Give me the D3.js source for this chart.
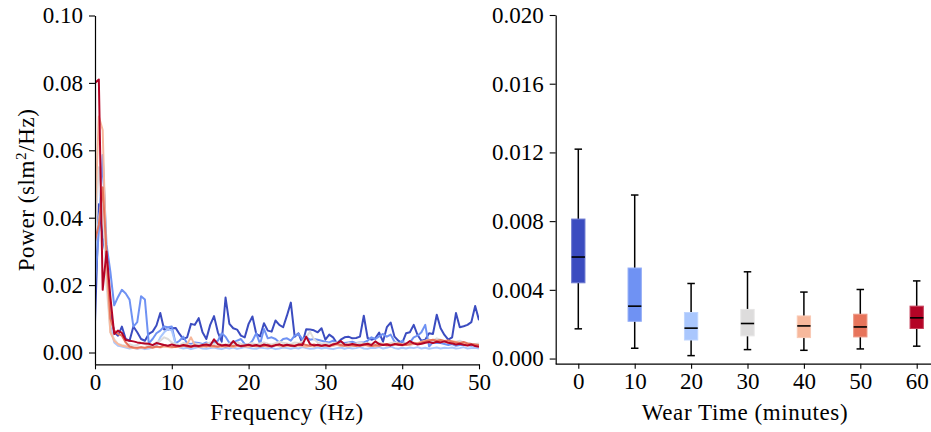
<!DOCTYPE html>
<html>
<head>
<meta charset="utf-8">
<script src="https://cdn.jsdelivr.net/npm/d3@7"></script>
<style>
  html, body { margin: 0; padding: 0; background: #fff; }
  svg { display: block; }
  svg text { font-family: "Liberation Serif", "DejaVu Serif", serif !important; fill: #000; }
</style>
</head>
<body>
<svg id="chart" width="931" height="432"></svg>
<script>
// Wear-time groups (minutes) and their colours
const wearTimes = [0, 10, 20, 30, 40, 50, 60];
const groupColors = ["#3b4cc0", "#6f92f3", "#aac7fd", "#dddcdc", "#f7b89c", "#e7745b", "#b40426"];

// Frequency bins of the spectra (Hz), 0.5 Hz spacing
const freqs = d3.range(0, 50.001, 0.5);

// Mean power spectra per wear time (slm^2/Hz)
const psd0 = [
  0.009, 0.044, 0.034, 0.028, 0.012, 0.006, 0.005, 0.0077, 0.004, 0.0035,
  0.0077, 0.006, 0.004, 0.0035, 0.0055, 0.0062, 0.008, 0.0117, 0.0068, 0.0068,
  0.0072, 0.0073, 0.0055, 0.004, 0.0045, 0.0085, 0.0082, 0.0102, 0.006, 0.004,
  0.0082, 0.0108, 0.006, 0.0032, 0.0163, 0.0085, 0.0072, 0.0068, 0.005, 0.0045,
  0.0085, 0.0107, 0.0055, 0.0048, 0.0087, 0.0065, 0.0062, 0.0095, 0.0082, 0.0075,
  0.011, 0.0148, 0.0047, 0.0057, 0.0027, 0.0069, 0.0068, 0.0066, 0.006, 0.0072,
  0.0038, 0.0053, 0.0045, 0.0027, 0.0038, 0.0045, 0.0047, 0.0042, 0.0043, 0.0047,
  0.0109, 0.0043, 0.0038, 0.0042, 0.0059, 0.0032, 0.0075, 0.0089, 0.0047, 0.0035,
  0.0028, 0.0057, 0.006, 0.0082, 0.0052, 0.0035, 0.0038, 0.0057, 0.0055, 0.0112,
  0.0072, 0.0052, 0.0038, 0.0045, 0.0117, 0.0075, 0.0078, 0.0082, 0.009, 0.0138,
  0.0096
];
const psd10 = [
  0.02, 0.036, 0.0586, 0.032, 0.024, 0.014, 0.0165, 0.0186, 0.0175, 0.0157,
  0.0077, 0.009, 0.0167, 0.0157, 0.0027, 0.004, 0.0057, 0.0065, 0.0077, 0.0075,
  0.0077, 0.0027, 0.0035, 0.0047, 0.0027, 0.0025, 0.003, 0.0028, 0.0025, 0.003,
  0.0025, 0.003, 0.0035, 0.0057, 0.0047, 0.0028, 0.003, 0.0035, 0.004, 0.0025,
  0.0022, 0.0035, 0.0057, 0.0025, 0.007, 0.0042, 0.0045, 0.004, 0.003, 0.004,
  0.0042, 0.0035, 0.005, 0.0055, 0.004, 0.0045, 0.0038, 0.004, 0.0038, 0.0035,
  0.0032, 0.003, 0.0035, 0.0025, 0.003, 0.0028, 0.003, 0.0032, 0.0028, 0.003,
  0.003, 0.0035, 0.0045, 0.004, 0.0048, 0.0055, 0.0047, 0.0053, 0.0032, 0.0025,
  0.0035, 0.0023, 0.003, 0.0045, 0.005, 0.006, 0.0082, 0.0018, 0.003, 0.0028,
  0.0028, 0.0025, 0.0022, 0.0025, 0.002, 0.0022, 0.0023, 0.0022, 0.002, 0.0022,
  0.002
];
const psd20 = [
  0.03, 0.04, 0.046, 0.028, 0.008, 0.003, 0.002, 0.0018, 0.0015, 0.0012,
  0.0014, 0.0011, 0.0013, 0.001, 0.0012, 0.0015, 0.002, 0.0045, 0.006, 0.007,
  0.0065, 0.0025, 0.0015, 0.0012, 0.0014, 0.001, 0.0013, 0.0016, 0.0012, 0.0011,
  0.0013, 0.0015, 0.0012, 0.001, 0.0014, 0.0012, 0.0015, 0.0011, 0.0013, 0.0016,
  0.0014, 0.0012, 0.0011, 0.0015, 0.0013, 0.0012, 0.0014, 0.001, 0.0012, 0.0015,
  0.0013, 0.0011, 0.0014, 0.0012, 0.0016, 0.0013, 0.0011, 0.0012, 0.0015, 0.0012,
  0.0014, 0.0012, 0.001, 0.0013, 0.0015, 0.0011, 0.0014, 0.0012, 0.0013, 0.0016,
  0.0012, 0.0011, 0.0014, 0.0013, 0.0016, 0.0012, 0.0014, 0.0018, 0.0013, 0.0011,
  0.0014, 0.0012, 0.0015, 0.0013, 0.0016, 0.0012, 0.0014, 0.0011, 0.0013, 0.0015,
  0.0012, 0.0014, 0.0013, 0.0015, 0.0012, 0.0013, 0.0016, 0.0012, 0.0013, 0.0014,
  0.0012
];
const psd30 = [
  0.035, 0.055, 0.045, 0.02, 0.006, 0.004, 0.0025, 0.0022, 0.002, 0.0025,
  0.002, 0.0022, 0.0028, 0.0025, 0.002, 0.0022, 0.003, 0.0035, 0.0045, 0.004,
  0.003, 0.0025, 0.0022, 0.0028, 0.0025, 0.002, 0.0027, 0.0025, 0.0022, 0.0026,
  0.003, 0.0025, 0.0028, 0.0024, 0.0022, 0.0027, 0.0025, 0.003, 0.0026, 0.0023,
  0.0025, 0.0028, 0.0024, 0.0027, 0.003, 0.0026, 0.0024, 0.0028, 0.0032, 0.0029,
  0.0027, 0.0025, 0.003, 0.0028, 0.0033, 0.0045, 0.0062, 0.004, 0.003, 0.0026,
  0.0028, 0.0025, 0.0027, 0.003, 0.0026, 0.0024, 0.0028, 0.0025, 0.0027, 0.003,
  0.0026, 0.0028, 0.0025, 0.0027, 0.0029, 0.0026, 0.0024, 0.0028, 0.003, 0.0027,
  0.0025, 0.0028, 0.0026, 0.003, 0.0027, 0.0025, 0.0028, 0.0032, 0.0036, 0.0042,
  0.0038, 0.0033, 0.003, 0.0028, 0.0032, 0.0035, 0.003, 0.0028, 0.0026, 0.0025,
  0.0027
];
const psd40 = [
  0.04, 0.07, 0.066, 0.025, 0.006, 0.0035, 0.0025, 0.002, 0.0018, 0.0015,
  0.0013, 0.0012, 0.0015, 0.0013, 0.0016, 0.0014, 0.0017, 0.0015, 0.0018, 0.0016,
  0.0015, 0.0018, 0.0016, 0.0019, 0.0025, 0.0045, 0.0022, 0.0018, 0.0017, 0.002,
  0.0018, 0.0016, 0.0019, 0.0017, 0.002, 0.0018, 0.0016, 0.0019, 0.0021, 0.0018,
  0.0017, 0.002, 0.0018, 0.0022, 0.0019, 0.0017, 0.002, 0.0023, 0.0019, 0.0018,
  0.002, 0.0022, 0.0018, 0.0021, 0.0019, 0.0017, 0.002, 0.0018, 0.0022, 0.0019,
  0.0021, 0.0018, 0.002, 0.0023, 0.0019, 0.0021, 0.0018, 0.0022, 0.002, 0.0019,
  0.0021, 0.0023, 0.002, 0.0018, 0.0022, 0.0024, 0.002, 0.0022, 0.0025, 0.0023,
  0.0021, 0.0024, 0.0022, 0.0026, 0.0028, 0.0032, 0.0035, 0.0038, 0.0036, 0.0033,
  0.0035, 0.0032, 0.003, 0.0034, 0.0031, 0.0028, 0.0026, 0.0025, 0.0023, 0.0022,
  0.0021
];
const psd50 = [
  0.033, 0.038, 0.049, 0.03, 0.01, 0.0065, 0.0055, 0.005, 0.003, 0.0018,
  0.0015, 0.0014, 0.0016, 0.0014, 0.0017, 0.0015, 0.0018, 0.0016, 0.0022, 0.0019,
  0.0017, 0.0016, 0.0019, 0.0021, 0.0018, 0.0016, 0.0019, 0.0017, 0.002, 0.0018,
  0.0021, 0.0019, 0.0017, 0.002, 0.0018, 0.0021, 0.0019, 0.0022, 0.0018, 0.002,
  0.0022, 0.0019, 0.0021, 0.0018, 0.002, 0.0023, 0.0019, 0.0021, 0.0024, 0.002,
  0.0022, 0.0019, 0.0021, 0.0023, 0.0026, 0.0022, 0.002, 0.0024, 0.0021, 0.0019,
  0.0022, 0.002, 0.0024, 0.0026, 0.0022, 0.002, 0.0023, 0.0021, 0.0019, 0.0022,
  0.0024, 0.0021, 0.0019, 0.0022, 0.002, 0.0023, 0.0025, 0.0022, 0.0024, 0.0027,
  0.0024, 0.0022, 0.0025, 0.0028, 0.0026, 0.003, 0.0033, 0.0036, 0.0038, 0.0035,
  0.0037, 0.0034, 0.0036, 0.0032, 0.003, 0.0028, 0.0031, 0.0027, 0.0025, 0.0024,
  0.0022
];
const psd60 = [
  0.080, 0.081, 0.0186, 0.030, 0.0165, 0.0055, 0.0065, 0.0058, 0.0037, 0.0035,
  0.0033, 0.003, 0.0028, 0.0027, 0.0026, 0.0022, 0.0028, 0.0025, 0.0022, 0.002,
  0.0024, 0.0021, 0.0019, 0.0022, 0.002, 0.0018, 0.0021, 0.0019, 0.0022, 0.0024,
  0.0021, 0.0039, 0.0025, 0.0021, 0.0023, 0.002, 0.0034, 0.0022, 0.0019, 0.0021,
  0.0023, 0.002, 0.0022, 0.0019, 0.0024, 0.0021, 0.0018, 0.0022, 0.0024, 0.002,
  0.0023, 0.0021, 0.0019, 0.0024, 0.0022, 0.0047, 0.0025, 0.0021, 0.0023, 0.002,
  0.0022, 0.0019, 0.0024, 0.0027, 0.0034, 0.0024, 0.0022, 0.0025, 0.0023, 0.0021,
  0.0024, 0.0026, 0.0022, 0.0033, 0.0025, 0.0022, 0.0024, 0.0021, 0.0025, 0.0023,
  0.0022, 0.0026, 0.0034, 0.0027, 0.0024, 0.0026, 0.0029, 0.0031, 0.0028, 0.0032,
  0.003, 0.0033, 0.0029, 0.0027, 0.0024, 0.0026, 0.0023, 0.0021, 0.0024, 0.0019,
  0.0017
];
const spectra = [psd0, psd10, psd20, psd30, psd40, psd50, psd60];

// Box-plot summaries of integrated power per wear time
const whiskerLow  = [0.00173, 0.00060, 0.00017, 0.00052, 0.00048, 0.00056, 0.00072];
const quartile1   = [0.00441, 0.00217, 0.00108, 0.00132, 0.00122, 0.00126, 0.00175];
const medians     = [0.00591, 0.00305, 0.00177, 0.00204, 0.00190, 0.00184, 0.00237];
const quartile3   = [0.00812, 0.00527, 0.00268, 0.00286, 0.00248, 0.00258, 0.00305];
const whiskerHigh = [0.01219, 0.00952, 0.00437, 0.00505, 0.00387, 0.00402, 0.00452];

// Tick labels
const psdTicks = [0, 0.02, 0.04, 0.06, 0.08, 0.10];
const freqTicks = [0, 10, 20, 30, 40, 50];
const boxTicks = [0, 0.004, 0.008, 0.012, 0.016, 0.020];

const SERIF = '"Liberation Serif", "DejaVu Serif", serif';
const FONT = 23;
const svg = d3.select("#chart").attr("font-family", SERIF);

function styleAxis(g) {
  g.attr("font-family", SERIF).attr("font-size", FONT);
  g.selectAll("path.domain").attr("stroke", "#000").attr("stroke-width", 1.2);
  g.selectAll(".tick line").attr("stroke", "#000").attr("stroke-width", 1.1);
  g.selectAll(".tick text").style("font-family", SERIF).style("font-size", FONT + "px").attr("fill", "#000");
}

// ---------- Left panel: power spectra ----------
const L = { left: 95, right: 479, top: 15.5, bottom: 364.3 };
const xF = d3.scaleLinear().domain([0, 50]).range([L.left, L.right]);
const yP = d3.scaleLinear().domain([-0.0035, 0.1]).range([L.bottom, L.top]);

const left = svg.append("g");
svg.append("defs").append("clipPath").attr("id", "clipL")
  .append("rect").attr("x", L.left).attr("y", L.top - 4)
  .attr("width", L.right - L.left).attr("height", L.bottom - L.top + 4);

const line = d3.line().x((d, i) => xF(freqs[i])).y(d => yP(d));
left.append("g").attr("clip-path", "url(#clipL)")
  .selectAll("path").data(spectra).join("path")
  .attr("d", d => line(d))
  .attr("fill", "none")
  .attr("stroke", (d, i) => groupColors[i])
  .attr("stroke-width", 2)
  .attr("stroke-linejoin", "round");

left.append("g").attr("transform", `translate(0,${L.bottom})`)
  .call(d3.axisBottom(xF).tickValues(freqTicks).tickSize(5).tickSizeOuter(0).tickPadding(4)
    .tickFormat(d3.format("d")))
  .call(styleAxis);
left.append("g").attr("transform", `translate(${L.left},0)`)
  .call(d3.axisLeft(yP).tickValues(psdTicks).tickSize(6).tickSizeOuter(0).tickPadding(6)
    .tickFormat(d3.format(".2f")))
  .call(styleAxis);

left.append("text").attr("x", (L.left + L.right) / 2).attr("y", 420)
  .attr("text-anchor", "middle").style("font-family", SERIF).style("font-size", FONT + "px")
  .style("letter-spacing", "0.6px")
  .text("Frequency (Hz)");

const yl = left.append("text")
  .attr("transform", `translate(34,${(L.top + L.bottom) / 2}) rotate(-90)`)
  .attr("text-anchor", "middle").style("font-family", SERIF).style("font-size", FONT + "px")
  .style("letter-spacing", "0.6px");
yl.append("tspan").text("Power (slm");
yl.append("tspan").attr("dy", -8).style("font-size", "15px").text("2");
yl.append("tspan").attr("dy", 8).text("/Hz)");

// ---------- Right panel: box plots ----------
const R = { left: 555.7, right: 936, top: 15, bottom: 363.7 };
const xW = d3.scalePoint().domain(wearTimes).range([578.3, 916.7]);
const yB = d3.scaleLinear().domain([-0.0003, 0.02]).range([R.bottom, R.top]);

const right = svg.append("g");
const boxW = 13.3, capW = 7.5;
const boxes = right.selectAll("g.box").data(wearTimes).join("g").attr("class", "box");

boxes.append("line")
  .attr("x1", d => xW(d)).attr("x2", d => xW(d))
  .attr("y1", (d, i) => yB(whiskerHigh[i])).attr("y2", (d, i) => yB(quartile3[i]))
  .attr("stroke", "#000").attr("stroke-width", 1.5);
boxes.append("line")
  .attr("x1", d => xW(d)).attr("x2", d => xW(d))
  .attr("y1", (d, i) => yB(quartile1[i])).attr("y2", (d, i) => yB(whiskerLow[i]))
  .attr("stroke", "#000").attr("stroke-width", 1.5);
boxes.append("line")
  .attr("x1", d => xW(d) - capW / 2).attr("x2", d => xW(d) + capW / 2)
  .attr("y1", (d, i) => yB(whiskerHigh[i])).attr("y2", (d, i) => yB(whiskerHigh[i]))
  .attr("stroke", "#000").attr("stroke-width", 1.5);
boxes.append("line")
  .attr("x1", d => xW(d) - capW / 2).attr("x2", d => xW(d) + capW / 2)
  .attr("y1", (d, i) => yB(whiskerLow[i])).attr("y2", (d, i) => yB(whiskerLow[i]))
  .attr("stroke", "#000").attr("stroke-width", 1.5);
boxes.append("rect")
  .attr("x", d => xW(d) - boxW / 2).attr("width", boxW)
  .attr("y", (d, i) => yB(quartile3[i]))
  .attr("height", (d, i) => yB(quartile1[i]) - yB(quartile3[i]))
  .attr("fill", (d, i) => groupColors[i])
  .attr("stroke", (d, i) => d3.interpolateRgb(groupColors[i], "#fff")(0.25))
  .attr("stroke-width", 1);
boxes.append("line")
  .attr("x1", d => xW(d) - boxW / 2).attr("x2", d => xW(d) + boxW / 2)
  .attr("y1", (d, i) => yB(medians[i])).attr("y2", (d, i) => yB(medians[i]))
  .attr("stroke", "#000").attr("stroke-width", 1.6);

const xAxisR = right.append("g").attr("transform", `translate(0,${R.bottom})`)
  .call(d3.axisBottom(xW).tickSize(5).tickSizeOuter(0).tickPadding(4))
  .call(styleAxis);
xAxisR.select("path.domain").attr("d", `M${R.left},0.5H${R.right}`);

right.append("g").attr("transform", `translate(${R.left},0)`)
  .call(d3.axisLeft(yB).tickValues(boxTicks).tickSize(6).tickSizeOuter(0).tickPadding(6)
    .tickFormat(d3.format(".3f")))
  .call(styleAxis);

right.append("text").attr("x", 745).attr("y", 420)
  .attr("text-anchor", "middle").style("font-family", SERIF).style("font-size", FONT + "px")
  .style("letter-spacing", "0.6px")
  .text("Wear Time (minutes)");
</script>
</body>
</html>
